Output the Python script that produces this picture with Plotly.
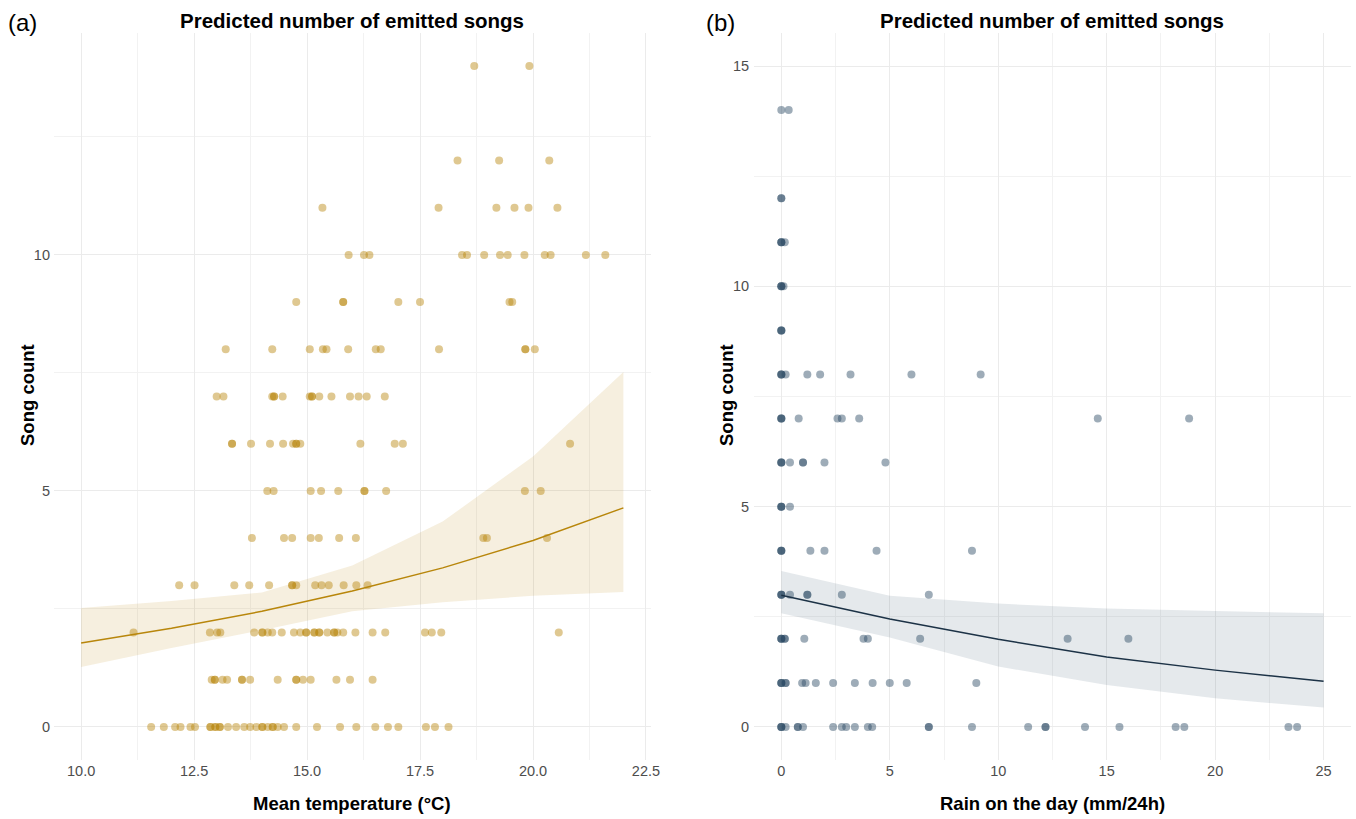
import plotly.graph_objects as go

# ---------------- Panel (a): temperature ----------------
temp_c14 = [18.70, 19.92]
temp_c12 = [18.33, 19.25, 20.36]
temp_c11 = [15.34, 17.91, 19.19, 19.59, 19.90, 20.54]
temp_c10 = [15.92, 16.26, 16.38, 18.43, 18.54, 18.92, 19.27, 19.44, 19.81, 20.26, 20.39, 21.17, 21.60]
temp_c9 = [14.76, 15.80, 15.80, 17.02, 17.50, 19.48, 19.54]
temp_c8 = [13.20, 14.23, 15.06, 15.35, 15.43, 15.91, 16.52, 16.63, 17.92, 19.83, 19.83, 20.04]
temp_c7 = [13.00, 13.15, 14.23, 14.27, 14.27, 14.46, 15.06, 15.11, 15.11, 15.27, 15.54, 15.95, 16.14, 16.32, 16.72]
temp_c6 = [13.34, 13.34, 13.76, 14.18, 14.47, 14.69, 14.76, 14.76, 14.85, 16.18, 16.94, 17.12, 20.82]
temp_c5 = [14.12, 14.26, 15.08, 15.31, 15.69, 16.27, 16.27, 16.75, 19.82, 20.17]
temp_c4 = [13.78, 14.49, 14.67, 15.08, 15.26, 15.71, 16.08, 18.90, 18.98, 20.31]
temp_c3 = [12.17, 12.51, 13.39, 13.72, 14.16, 14.67, 14.67, 14.76, 15.18, 15.32, 15.48, 15.81, 16.09, 16.34]
temp_c2 = [11.16, 12.85, 13.01, 13.08, 13.83, 14.01, 14.01, 14.13, 14.23, 14.44, 14.71, 14.85, 14.98, 14.98,
           15.16, 15.16, 15.27, 15.27, 15.45, 15.60, 15.60, 15.67, 15.80, 16.07, 16.45, 16.73, 17.61, 17.76,
           17.97, 20.57]
temp_c1 = [12.89, 12.96, 12.96, 13.13, 13.23, 13.56, 13.56, 13.74, 14.35, 14.76, 14.76, 14.91, 15.08, 15.65,
           15.95, 16.45]
temp_c0 = [11.55, 11.83, 12.08, 12.20, 12.42, 12.52, 12.86, 12.86, 12.97, 12.97, 13.07, 13.07, 13.25, 13.43,
           13.61, 13.74, 13.88, 14.01, 14.01, 14.13, 14.24, 14.24, 14.35, 14.49, 14.76, 15.22, 15.73, 16.09,
           16.51, 16.79, 17.02, 17.63, 17.83, 18.13]

temp_rows = {14: temp_c14, 12: temp_c12, 11: temp_c11, 10: temp_c10, 9: temp_c9, 8: temp_c8, 7: temp_c7,
             6: temp_c6, 5: temp_c5, 4: temp_c4, 3: temp_c3, 2: temp_c2, 1: temp_c1, 0: temp_c0}

temp_grid = [10, 12, 14, 16, 18, 20, 22]
temp_fit = [1.78, 2.09, 2.45, 2.88, 3.37, 3.95, 4.64]
temp_upper = [2.52, 2.67, 2.85, 3.42, 4.35, 5.73, 7.52]
temp_lower = [1.27, 1.67, 2.05, 2.45, 2.64, 2.78, 2.86]

# ---------------- Panel (b): rain ----------------
rain_c14 = [0, 0.34]
rain_c12 = [0, 0]
rain_c11 = [0, 0, 0, 0.16]
rain_c10 = [0, 0, 0, 0.10]
rain_c9 = [0, 0, 0]
rain_c8 = [0, 0, 0, 0.20, 1.20, 1.79, 3.19, 6.00, 9.19]
rain_c7 = [0, 0, 0, 0.80, 2.59, 2.79, 3.59, 14.59, 18.80]
rain_c6 = [0, 0, 0, 0.40, 1.00, 1.00, 1.99, 4.80]
rain_c5 = [0, 0, 0, 0.40]
rain_c4 = [0, 0, 0, 1.34, 1.99, 4.39, 8.79]
rain_c3 = [0, 0, 0, 0.40, 1.20, 1.20, 2.79, 6.80]
rain_c2 = [0, 0, 0, 0.16, 0.16, 1.06, 3.79, 3.99, 6.40, 13.20, 16.00]
rain_c1 = [0, 0, 0, 0.20, 0.20, 0.96, 1.12, 1.59, 2.39, 3.39, 4.21, 5.00, 5.78, 8.99]
rain_c0 = [0, 0, 0, 0.20, 0.76, 0.76, 1.00, 2.39, 2.79, 2.99, 3.39, 3.99, 4.19, 6.80, 6.80, 8.79, 11.38,
           12.18, 12.18, 14.00, 15.59, 18.18, 18.58, 23.38, 23.78]

rain_rows = {14: rain_c14, 12: rain_c12, 11: rain_c11, 10: rain_c10, 9: rain_c9, 8: rain_c8, 7: rain_c7,
             6: rain_c6, 5: rain_c5, 4: rain_c4, 3: rain_c3, 2: rain_c2, 1: rain_c1, 0: rain_c0}

rain_grid = [0, 5, 10, 15, 20, 25]
rain_fit = [2.99, 2.45, 1.99, 1.59, 1.29, 1.04]
rain_upper = [3.54, 2.98, 2.80, 2.69, 2.63, 2.58]
rain_lower = [2.58, 2.03, 1.37, 0.95, 0.65, 0.44]

temp_ticks = [10.0, 12.5, 15.0, 17.5, 20.0, 22.5]
temp_ticktext = ["10.0", "12.5", "15.0", "17.5", "20.0", "22.5"]
rain_ticks = [0, 5, 10, 15, 20, 25]
count_ticks_a = [0, 5, 10]
count_ticks_b = [0, 5, 10, 15]

TITLE = "Predicted number of emitted songs"
FONT = "Liberation Sans, Arial, Helvetica, sans-serif"

GOLD = (184, 134, 11)
SLATE = (40, 70, 97)


def rgba(c, a):
    return f"rgba({c[0]},{c[1]},{c[2]},{a})"


def flatten(rows):
    xs, ys = [], []
    for y, vals in rows.items():
        for v in vals:
            xs.append(v)
            ys.append(y)
    return xs, ys


fig = go.Figure()

# ---- panel a
fig.add_trace(go.Scatter(x=temp_grid + temp_grid[::-1], y=temp_upper + temp_lower[::-1],
                         fill="toself", fillcolor=rgba(GOLD, 0.13), line=dict(width=0),
                         mode="lines", hoverinfo="skip", showlegend=False, xaxis="x", yaxis="y"))
tx, ty = flatten(temp_rows)
fig.add_trace(go.Scatter(x=tx, y=ty, mode="markers",
                         marker=dict(size=8, color=rgba(GOLD, 0.45), line=dict(width=0)),
                         showlegend=False, xaxis="x", yaxis="y"))
fig.add_trace(go.Scatter(x=temp_grid, y=temp_fit, mode="lines",
                         line=dict(color=rgba(GOLD, 1), width=1.5), showlegend=False,
                         xaxis="x", yaxis="y"))

# ---- panel b
fig.add_trace(go.Scatter(x=rain_grid + rain_grid[::-1], y=rain_upper + rain_lower[::-1],
                         fill="toself", fillcolor=rgba(SLATE, 0.12), line=dict(width=0),
                         mode="lines", hoverinfo="skip", showlegend=False, xaxis="x2", yaxis="y2"))
rx, ry = flatten(rain_rows)
fig.add_trace(go.Scatter(x=rx, y=ry, mode="markers",
                         marker=dict(size=8, color=rgba(SLATE, 0.45), line=dict(width=0)),
                         showlegend=False, xaxis="x2", yaxis="y2"))
fig.add_trace(go.Scatter(x=rain_grid, y=rain_fit, mode="lines",
                         line=dict(color="rgb(28,50,70)", width=1.5), showlegend=False,
                         xaxis="x2", yaxis="y2"))

W, H = 1356, 819


def px_x(p):
    return p / W


def px_y(p):
    return (H - p) / H


GRID = "#EBEBEB"
MINOR = "#F2F2F2"
tickfont = dict(family=FONT, size=14.5, color="#4D4D4D")

common_axis = dict(showline=False, zeroline=False, ticks="", gridcolor=GRID, gridwidth=1,
                   tickfont=tickfont, showgrid=True, automargin=False)

dom_y = [px_y(760), px_y(33)]

fig.update_layout(
    width=W, height=H,
    margin=dict(l=0, r=0, t=0, b=0, autoexpand=False),
    paper_bgcolor="white", plot_bgcolor="white",
    font=dict(family=FONT),
    xaxis=dict(domain=[px_x(54), px_x(650.5)], range=[9.4, 22.6], tickvals=temp_ticks,
               ticktext=temp_ticktext, anchor="y",
               minor=dict(dtick=1.25, tick0=10, showgrid=True, gridcolor=MINOR, gridwidth=1),
               **common_axis),
    yaxis=dict(domain=dom_y, range=[-0.7, 14.7], tickvals=count_ticks_a, anchor="x",
               ticklabelstandoff=3,
               minor=dict(dtick=2.5, tick0=0, showgrid=True, gridcolor=MINOR, gridwidth=1),
               **common_axis),
    xaxis2=dict(domain=[px_x(754.2), px_x(1350.7)], range=[-1.25, 26.25], tickvals=rain_ticks,
                anchor="y2",
                minor=dict(dtick=2.5, tick0=0, showgrid=True, gridcolor=MINOR, gridwidth=1),
                **common_axis),
    yaxis2=dict(domain=dom_y, range=[-0.75, 15.75], tickvals=count_ticks_b, anchor="x2",
                ticklabelstandoff=4,
                minor=dict(dtick=2.5, tick0=0, showgrid=True, gridcolor=MINOR, gridwidth=1),
                **common_axis),
)

ann = []
bold = dict(family=FONT, size=20.5, color="#000000")
lab = dict(family=FONT, size=18.5, color="#000000")
ann.append(dict(text="(a)", x=px_x(22), y=px_y(22), font=dict(family=FONT, size=24, color="#000")))
ann.append(dict(text="(b)", x=px_x(720), y=px_y(22), font=dict(family=FONT, size=24, color="#000")))
ann.append(dict(text=f"<b>{TITLE}</b>", x=px_x(352), y=px_y(20), font=bold))
ann.append(dict(text=f"<b>{TITLE}</b>", x=px_x(1052), y=px_y(20), font=bold))
ann.append(dict(text="<b>Mean temperature (°C)</b>", x=px_x(352), y=px_y(803), font=lab))
ann.append(dict(text="<b>Rain on the day (mm/24h)</b>", x=px_x(1052), y=px_y(803), font=lab))
ann.append(dict(text="<b>Song count</b>", x=px_x(28), y=px_y(395), textangle=-90, font=lab))
ann.append(dict(text="<b>Song count</b>", x=px_x(727), y=px_y(395), textangle=-90, font=lab))
for a in ann:
    a.update(xref="paper", yref="paper", showarrow=False, xanchor="center", yanchor="middle")
fig.update_layout(annotations=ann)

fig.write_html("out.html", config={"displayModeBar": False},
               post_script="document.body.style.margin='0';document.body.style.overflow='hidden';")
